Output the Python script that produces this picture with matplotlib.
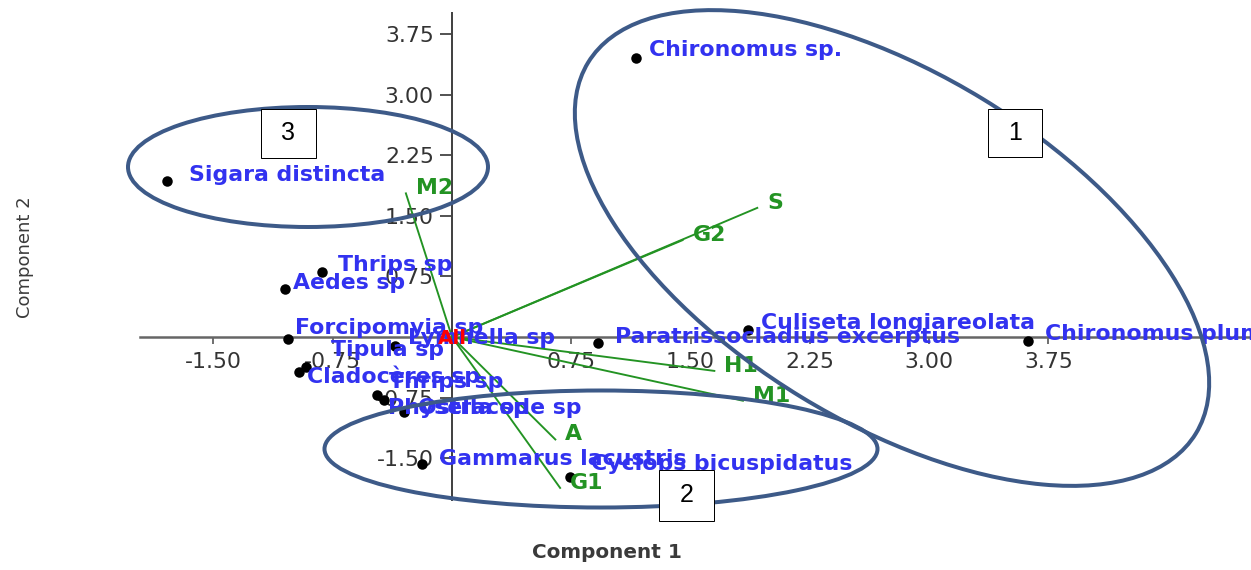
import matplotlib.pyplot as plt
from matplotlib.patches import Ellipse, Rectangle
from matplotlib.transforms import Affine2D

plt.rcParams['font.family'] = ['DejaVu Sans']

W, H, DPI = 1251, 570, 72

# PCA scores of the taxa
species = ["Chironomus sp.", "Sigara distincta", "Thrips sp", "Aedes sp",
           "Forcipomyia sp", "Lymnella sp", "Tipula sp", "Cladocères sp",
           "Thrips sp", "Physella sp", "Ostracode sp", "Gammarus lacustris",
           "Cyclops bicuspidatus", "Paratrissocladius excerptus",
           "Culiseta longiareolata", "Chironomus plumosus"]
comp1 = [1.16, -1.79, -0.82, -1.05, -1.03, -0.36, -0.92, -0.96,
         -0.47, -0.43, -0.30, -0.19, 0.74, 0.92, 1.86, 3.62]
comp2 = [3.46, 1.93, 0.81, 0.59, -0.02, -0.11, -0.37, -0.43,
         -0.72, -0.78, -0.93, -1.57, -1.73, -0.07, 0.09, -0.05]

# environmental variable loadings
variables = ["M2", "S", "G2", "H1", "M1", "A", "G1"]
var_c1 = [-0.29, 1.92, 1.45, 1.65, 1.83, 0.65, 0.68]
var_c2 = [1.78, 1.60, 1.20, -0.42, -0.79, -1.27, -1.87]

ticks = [-1.50, -0.75, 0.75, 1.50, 2.25, 3.00, 3.75]

# label placement (px right, px up from the point)
label_offsets = [(13, 8), (22, 6), (16, 7), (8, 6), (7, 11), (13, 8), (25, 17),
                 (8, -5), (12, 13), (4, -8), (14, 4), (17, 5), (21, 13),
                 (17, 6), (13, 7), (17, 7)]

BLUE = '#3232f0'
GREEN = '#239323'
RING = '#3d5a88'

fig = plt.figure(figsize=(W / DPI, H / DPI), dpi=DPI)
ax = fig.add_axes([0, 0, 1, 1])

# origin sits at pixel (452, 337); 159 px per unit across, 80.7 px per unit up
ox, oy, sx, sy = 452, 337, 159, 80.7
ax.set_xlim(-ox / sx, (W - ox) / sx)
ax.set_ylim((oy - H) / sy, oy / sy)

for side in ['top', 'right']:
    ax.spines[side].set_visible(False)
ax.spines['left'].set_position(('data', 0))
ax.spines['bottom'].set_position(('data', 0))
ax.spines['left'].set_bounds(-2.02, 4.01)
ax.spines['bottom'].set_bounds(-1.96, 5.2)
ax.spines['left'].set_color('#444444')
ax.spines['left'].set_linewidth(2)
ax.spines['bottom'].set_color('#666666')
ax.spines['bottom'].set_linewidth(2.5)

ax.set_xticks(ticks)
ax.set_yticks(ticks)
ax.set_xticklabels([f"{t:.2f}" for t in ticks])
ax.set_yticklabels([f"{t:.2f}" for t in ticks])
ax.tick_params(axis='x', direction='out', length=7, width=1.5, pad=8,
               labelsize=22, color='#444444', labelcolor='#333333')
ax.tick_params(axis='y', direction='out', length=12, width=1.8, pad=6,
               labelsize=22, color='#444444', labelcolor='#333333')

# biplot vectors
for name, x, y in zip(variables, var_c1, var_c2):
    ax.plot([0, x], [0, y], color=GREEN, lw=1.9, zorder=3)
    ax.annotate(name, (x, y), xytext=(10, 5), textcoords='offset points',
                ha='left', va='center', color=GREEN, fontsize=22,
                fontweight='bold', zorder=5)

ax.scatter(comp1, comp2, s=110, color='black', zorder=4, linewidths=0)
for name, x, y, off in zip(species, comp1, comp2, label_offsets):
    ax.annotate(name, (x, y), xytext=off, textcoords='offset points',
                ha='left', va='center', color=BLUE, fontsize=22,
                fontweight='bold', zorder=5)

ax.annotate('All', (0, 0), xytext=(-14, -1), textcoords='offset points',
            ha='left', va='center', color='red', fontsize=20,
            fontweight='bold', zorder=6)

# pixel space, y downwards
px = Affine2D().scale(1, -1).translate(0, H)

fig.text(607, 553, 'Component 1', transform=px, ha='center', va='center',
         fontsize=20, fontweight='bold', color='#3a3a3a')
fig.text(25, 257, 'Component 2', transform=px, ha='center', va='center',
         rotation=90, fontsize=18, color='#3a3a3a')

# grouping rings and their numbers
rings = [((892, 248), 712, 349, 31.4),
         ((601, 449), 553, 117, 0),
         ((308, 167), 360, 120, 0)]
for centre, w, h, ang in rings:
    fig.add_artist(Ellipse(centre, w, h, angle=ang, fill=False,
                           edgecolor=RING, lw=4, transform=px, zorder=5))

boxes = [("1", 988, 109, 54, 48), ("2", 659, 470, 55, 51), ("3", 261, 109, 55, 49)]
for num, bx, by, bw, bh in boxes:
    fig.add_artist(Rectangle((bx, by), bw, bh, facecolor='white',
                             edgecolor='black', lw=1, transform=px, zorder=6))
    fig.text(bx + bw / 2, by + bh / 2, num, transform=px, ha='center',
             va='center', fontsize=25, family='Liberation Sans', zorder=7)

fig.savefig('out.png', dpi=DPI)
